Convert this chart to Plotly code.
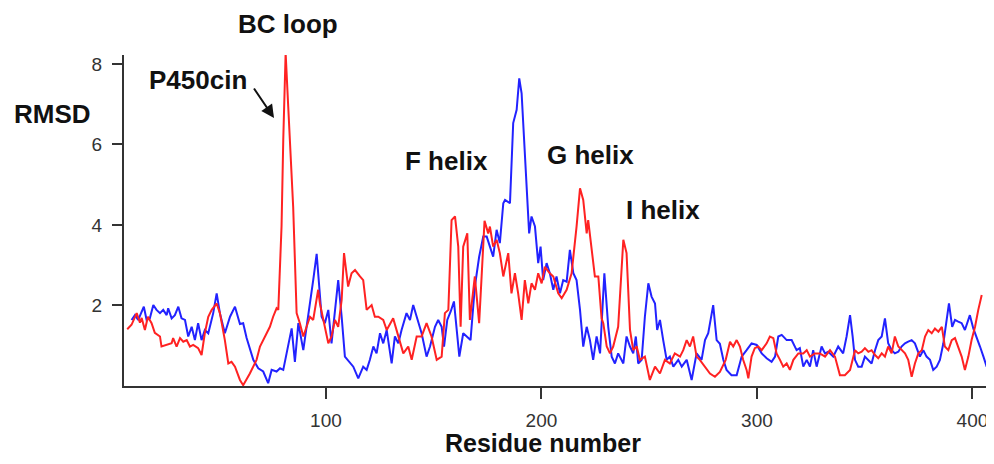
import plotly.graph_objects as go

# ---- data ----
red_residue = [7.8, 9.8, 12.2, 13.7, 14.5, 16.0, 17.4, 19.1, 20.6, 23.0, 23.7, 26.0, 28.4, 29.1, 30.7, 32.3, 33.8, 35.4, 36.9, 38.4,
               40.7, 42.3, 43.8, 45.4, 47.0, 49.3, 50.8, 53.1, 54.7, 56.2, 57.8, 60.1, 61.6, 64.7, 67.8, 69.4, 71.7, 74.0, 75.5, 77.1,
               77.9, 79.4, 80.2, 81.3, 82.5, 84.8, 86.4, 87.9, 89.5, 91.0, 92.6, 94.1, 96.4, 97.2, 99.5, 101.1, 102.6, 104.2, 105.7, 107.3,
               108.4, 110.3, 111.9, 113.5, 115.8, 117.3, 118.9, 121.2, 122.7, 124.3, 126.6, 128.2, 131.2, 133.6, 135.9, 138.2, 139.8, 142.1, 144.4, 146.7,
               149.0, 151.4, 153.7, 155.2, 156.8, 158.3, 159.9, 161.4, 162.5, 163.7, 165.6, 166.8, 169.1, 171.1, 173.6, 175.3, 176.1, 177.6, 179.2, 180.7,
               182.3, 184.6, 186.1, 187.7, 189.2, 190.8, 192.3, 193.9, 195.4, 197.0, 198.5, 200.1, 201.6, 203.9, 205.5, 207.8, 209.4, 211.7, 214.0, 216.3,
               217.9, 219.4, 221.0, 221.7, 223.3, 224.8, 226.4, 227.9, 228.7, 230.3, 231.8, 233.3, 235.6, 237.2, 238.0, 239.5, 241.1, 242.6, 244.2, 245.7,
               248.0, 250.3, 252.7, 255.0, 257.3, 259.6, 261.9, 264.3, 265.8, 267.4, 268.9, 270.4, 272.0, 273.5, 275.9, 278.2, 280.5, 282.8, 285.5, 287.5,
               289.0, 290.6, 292.1, 293.6, 295.2, 296.0, 297.5, 299.0, 300.6, 302.2, 304.5, 306.0, 307.6, 309.1, 310.7, 312.2, 313.8, 315.3, 316.9, 319.2,
               321.5, 323.1, 324.6, 326.9, 329.2, 331.6, 333.9, 336.2, 338.5, 340.8, 343.2, 345.5, 347.0, 348.6, 350.1, 351.7, 353.2, 354.8, 356.3, 357.9,
               359.4, 360.9, 362.5, 364.0, 365.6, 367.1, 368.7, 370.2, 371.8, 373.3, 374.9, 376.5, 378.0, 379.5, 381.1, 382.6, 384.2, 385.8, 387.2, 388.8,
               390.4, 391.9, 393.4, 395.0, 396.5, 398.1, 399.6, 401.2, 402.7, 404.3]
red_rmsd = [1.41, 1.52, 1.81, 1.57, 1.69, 1.39, 1.72, 1.56, 1.32, 1.23, 0.98, 1.02, 1.06, 1.19, 0.98, 1.19, 1.10, 1.14, 0.98, 1.02,
            0.94, 0.77, 1.31, 1.72, 1.89, 2.05, 1.81, 1.14, 0.56, 0.60, 0.48, 0.15, 0.02, 0.31, 0.65, 0.98, 1.23, 1.47, 1.72, 1.93,
            1.89, 3.96, 6.11, 8.27, 6.94, 4.45, 1.81, 1.56, 1.23, 1.47, 1.72, 1.64, 2.39, 2.05, 1.47, 1.06, 1.23, 1.64, 1.47, 2.14,
            3.30, 2.47, 2.80, 2.88, 2.72, 2.63, 1.89, 2.01, 1.72, 1.72, 1.64, 1.39, 1.68, 1.23, 0.81, 0.98, 0.65, 1.23, 1.23, 1.56,
            1.23, 0.65, 0.73, 1.81, 1.89, 4.12, 4.21, 3.46, 1.47, 3.46, 3.79, 1.64, 2.72, 1.56, 4.10, 3.79, 3.96, 3.46, 3.63, 3.30,
            2.72, 3.30, 2.30, 2.80, 2.30, 1.64, 2.63, 2.05, 2.55, 2.39, 2.80, 2.55, 2.96, 2.80, 2.72, 2.30, 2.18, 2.39, 2.80, 3.96,
            4.91, 4.62, 3.79, 4.12, 3.46, 2.72, 2.72, 1.68, 1.56, 0.98, 0.81, 0.98, 1.47, 3.13, 3.63, 3.30, 1.39, 0.89, 0.98, 0.65,
            0.73, 0.15, 0.48, 0.31, 0.65, 0.56, 0.81, 0.73, 0.89, 1.14, 0.98, 1.23, 0.73, 0.65, 0.48, 0.31, 0.23, 0.35, 0.65, 1.10,
            0.98, 1.14, 0.98, 0.65, 0.40, 0.19, 0.73, 0.94, 0.98, 0.89, 1.06, 1.23, 1.19, 0.81, 0.65, 0.48, 0.56, 0.40, 0.65, 0.81,
            0.81, 0.89, 0.73, 0.81, 0.81, 0.73, 0.89, 0.73, 0.27, 0.27, 0.40, 0.89, 0.81, 0.85, 0.94, 0.85, 0.89, 0.77, 0.69, 0.81,
            0.73, 0.98, 0.81, 1.23, 0.98, 0.89, 0.81, 0.65, 0.23, 0.56, 0.81, 0.89, 1.23, 1.39, 1.31, 1.43, 1.35, 1.47, 0.98, 0.89,
            1.14, 1.19, 0.98, 0.73, 0.40, 0.73, 1.14, 1.47, 1.89, 2.26]

blue_residue = [9.8, 11.4, 12.9, 14.5, 15.5, 16.8, 18.3, 19.9, 21.4, 23.0, 24.5, 26.1, 26.8, 28.4, 29.9, 31.5, 33.0, 34.6, 36.1, 37.7,
                39.2, 40.7, 42.3, 43.8, 45.4, 47.7, 49.3, 50.8, 53.1, 55.5, 57.8, 60.1, 61.6, 63.2, 66.3, 68.6, 70.9, 73.2, 74.8, 77.1,
                78.7, 80.2, 82.5, 84.1, 85.6, 87.2, 89.5, 91.8, 94.1, 95.7, 97.2, 98.0, 99.5, 101.1, 102.6, 104.2, 105.7, 107.3, 108.8, 112.7,
                115.0, 117.3, 118.9, 120.4, 122.0, 123.5, 125.1, 126.6, 128.2, 130.5, 132.0, 133.6, 135.1, 137.4, 139.0, 140.5, 142.1, 144.4, 146.7, 148.3,
                150.6, 152.1, 153.7, 154.8, 156.3, 157.9, 159.4, 160.6, 161.9, 163.7, 165.3, 167.1, 169.1, 171.1, 173.0, 174.6, 176.1, 177.6, 179.2, 180.7,
                182.3, 183.1, 185.4, 186.9, 188.5, 189.7, 190.8, 192.3, 194.3, 195.4, 197.0, 198.5, 199.6, 200.8, 202.4, 203.9, 205.5, 207.0, 208.6, 210.1,
                211.7, 213.2, 214.8, 216.3, 217.9, 219.4, 221.0, 222.5, 224.0, 225.6, 227.2, 229.2, 231.0, 232.6, 234.1, 235.6, 238.0, 239.5, 241.1, 242.6,
                243.8, 244.9, 246.5, 248.0, 249.6, 251.1, 252.7, 253.7, 255.0, 256.5, 258.1, 259.6, 261.2, 263.5, 265.1, 267.4, 269.7, 272.0, 274.3, 275.9,
                277.4, 279.7, 281.3, 282.8, 284.4, 285.9, 288.2, 290.6, 292.9, 295.2, 297.5, 299.9, 302.2, 304.5, 306.8, 308.4, 309.9, 311.5, 313.8, 316.1,
                318.4, 319.9, 321.5, 323.1, 324.6, 326.1, 327.7, 330.0, 331.6, 333.1, 335.4, 337.7, 340.0, 341.6, 343.2, 344.4, 345.5, 347.0, 348.6, 350.1,
                351.7, 353.2, 354.8, 356.3, 357.9, 359.4, 360.9, 362.5, 364.0, 365.6, 367.1, 368.7, 370.2, 371.8, 373.3, 375.6, 377.2, 378.7, 380.3, 381.8,
                383.4, 384.9, 386.5, 388.0, 389.1, 390.6, 391.9, 393.4, 395.0, 396.5, 398.8, 400.4, 401.9, 403.5, 405.1, 406.6, 408.2, 410.0]
blue_rmsd = [1.64, 1.76, 1.64, 1.85, 1.97, 1.64, 1.68, 2.01, 1.89, 1.81, 1.89, 1.76, 1.93, 1.68, 1.76, 1.97, 1.68, 1.64, 1.23, 1.47,
             1.14, 1.56, 1.14, 1.39, 1.31, 1.81, 2.30, 1.81, 1.31, 1.72, 1.97, 1.54, 1.56, 1.19, 0.65, 0.44, 0.36, 0.07, 0.40, 0.36,
             0.44, 0.40, 0.98, 1.43, 0.60, 1.56, 0.89, 1.72, 2.63, 3.28, 2.39, 1.72, 1.56, 1.89, 1.06, 1.81, 2.63, 1.72, 0.73, 0.48,
             0.19, 0.48, 0.40, 0.65, 0.98, 0.81, 1.31, 1.06, 1.39, 0.56, 1.23, 1.06, 1.39, 1.81, 1.64, 2.01, 1.72, 1.31, 0.73, 0.98,
             1.47, 1.64, 1.47, 0.98, 1.64, 1.85, 2.10, 1.47, 0.73, 1.31, 1.23, 1.14, 2.47, 3.21, 3.71, 3.71, 3.46, 3.21, 3.88, 3.55,
             4.54, 4.62, 4.54, 6.53, 6.86, 7.64, 7.27, 5.78, 3.79, 4.21, 3.96, 3.05, 3.46, 2.63, 3.05, 2.80, 2.39, 2.72, 2.30, 2.63,
             2.59, 3.38, 2.80, 2.63, 1.89, 0.98, 1.47, 1.14, 0.65, 1.23, 0.81, 2.80, 1.47, 0.73, 0.56, 0.81, 0.56, 1.23, 0.98, 0.81,
             1.23, 0.56, 0.65, 1.72, 2.55, 2.22, 2.05, 1.39, 1.64, 1.14, 0.65, 0.73, 0.48, 0.65, 0.48, 0.65, 0.15, 0.81, 0.65, 1.14,
             1.31, 2.01, 1.14, 1.05, 0.65, 0.40, 0.27, 0.27, 0.73, 0.89, 1.06, 1.02, 0.81, 0.69, 0.60, 0.73, 1.23, 1.27, 1.14, 1.14,
             0.89, 0.94, 0.48, 0.65, 0.48, 0.89, 0.48, 0.98, 0.81, 0.85, 0.73, 0.98, 0.81, 1.23, 1.76, 1.23, 0.65, 0.48, 0.48, 0.73,
             0.65, 0.56, 0.89, 1.14, 1.23, 1.68, 1.06, 0.89, 0.81, 0.85, 0.98, 1.06, 1.10, 1.14, 1.06, 0.73, 0.89, 0.73, 0.65, 0.40,
             0.48, 0.65, 1.06, 1.72, 2.05, 1.47, 1.64, 1.60, 1.56, 1.39, 1.76, 1.43, 1.23, 0.98, 0.73, 0.48, 0.65, 1.10]

x_ticks = [100, 200, 300, 400]
y_ticks = [2, 4, 6, 8]

# ---- figure geometry (pixels); the page body adds an 8 px offset ----
OFF = 8
W, H = 986, 448
L, R, T, B = 116, 0, 47, 70
PW, PH = W - L - R, H - T - B


def px(x, y):
    """screen pixel -> paper coords"""
    x -= OFF
    y -= OFF
    return (x - L) / PW, (T + PH - y) / PH


fig = go.Figure()
fig.add_trace(go.Scatter(x=blue_residue, y=blue_rmsd, mode="lines",
                         line=dict(color="#2222ff", width=2), showlegend=False))
fig.add_trace(go.Scatter(x=red_residue, y=red_rmsd, mode="lines",
                         line=dict(color="#ff2222", width=2), showlegend=False))

tick_font = dict(family="Liberation Sans, Arial, Helvetica", size=19, color="#333333")
label_font = dict(family="Liberation Sans, Arial, Helvetica", size=26, color="#111111", weight="bold")

fig.update_xaxes(range=[6.3, 410.0], showline=True, linecolor="#333333", linewidth=2,
                 ticks="outside", ticklen=11, tickwidth=1.5, tickcolor="#333333",
                 tickvals=x_ticks, showgrid=False, zeroline=False, tickfont=tick_font,
                 ticklabelstandoff=5)
fig.update_yaxes(range=[0, 8.22], showline=True, linecolor="#333333", linewidth=2,
                 ticks="outside", ticklen=10, tickwidth=1.5, tickcolor="#333333",
                 tickvals=y_ticks, showgrid=False, zeroline=False, tickfont=tick_font,
                 ticklabelstandoff=6)

labels = [
    ("BC loop", 288, 24, 26),
    ("P450cin", 198, 80, 26),
    ("RMSD", 52, 114, 26),
    ("F helix", 446, 161, 26),
    ("G helix", 590, 155, 26),
    ("I helix", 663, 210, 26),
    ("Residue number", 543, 443, 25),
]
for text, x, y, s in labels:
    xp, yp = px(x, y)
    f = dict(label_font)
    f["size"] = s
    fig.add_annotation(x=xp, y=yp, xref="paper", yref="paper", text=text, showarrow=False,
                       xanchor="center", yanchor="middle", font=f)

hx, hy = px(274, 118)
fig.add_annotation(x=hx, y=hy, xref="paper", yref="paper", text="", showarrow=True,
                   ax=-21, ay=-31, arrowhead=2, arrowsize=1.3, arrowwidth=2, arrowcolor="#111111")

fig.update_layout(width=W, height=H, margin=dict(l=L, r=R, t=T, b=B),
                  paper_bgcolor="white", plot_bgcolor="white")

fig.write_html("out.html")
